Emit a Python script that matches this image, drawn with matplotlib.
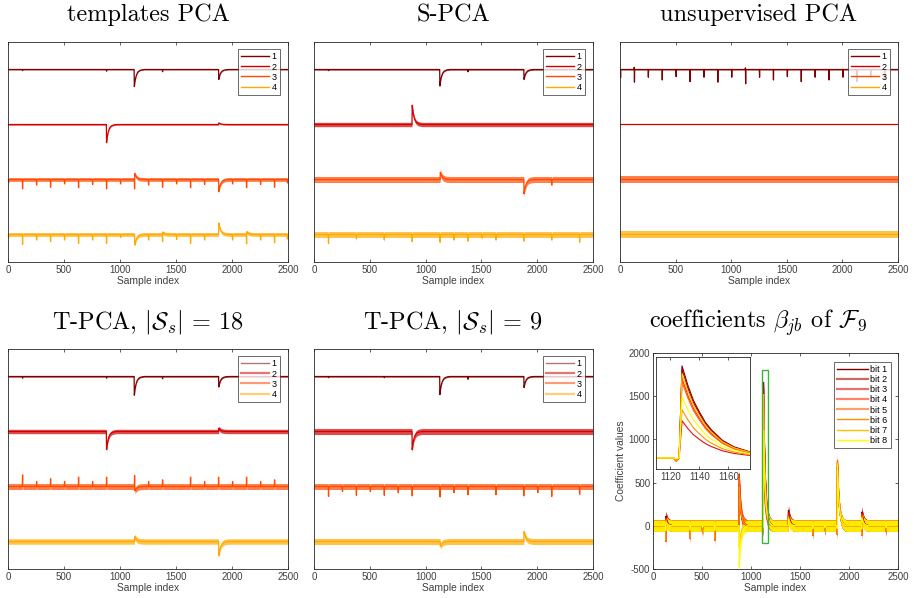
import numpy as np
import matplotlib
matplotlib.use("Agg")
import matplotlib.pyplot as plt
from matplotlib.lines import Line2D
from matplotlib.patches import Rectangle

plt.rcParams['font.family'] = ['Liberation Sans', 'DejaVu Sans']
plt.rcParams['mathtext.fontset'] = 'cm'
plt.rcParams['axes.unicode_minus'] = False

# ---- shared shapes ----
DECAY_OFFS = [-2, 0, 4, 8, 12, 16, 20, 28, 36, 48, 64, 90]
DECAY_FRAC = [0.0, 1.0, 0.79, 0.62, 0.50, 0.39, 0.31, 0.19, 0.12, 0.06, 0.025, 0.0]
SPIKE_OFFS = [-2, 0, 2]
SPIKE_FRAC = [0.0, 1.0, 0.0]

TRACE_COLORS = ['#800000', '#d40000', '#ff4a00', '#ffaa00']
TRACE_LABELS = ['1', '2', '3', '4']
TITLES = ['templates PCA', 'S-PCA', 'unsupervised PCA',
          r'T-PCA, $|\mathcal{S}_s|\,=\,18$', r'T-PCA, $|\mathcal{S}_s|\,=\,9$',
          r'coefficients $\beta_{jb}$ of $\mathcal{F}_9$']
XTICKS = [0, 500, 1000, 1500, 2000, 2500]

# ---- panel 1: templates PCA  (transients, narrow spikes, noise half-width) ----
P1_TRANS = [[(1128, -0.31), (1882, -0.18)],
            [(880, -0.33), (1882, 0.03)],
            [(1132, 0.11), (1882, -0.22)],
            [(1132, -0.19), (1882, 0.21), (1382, 0.04), (2132, 0.05)]]
P1_SPIKES = [[(130, -0.02), (880, -0.03), (1380, -0.04)],
             [],
             [(5, -0.05), (130, -0.17), (255, -0.1), (380, -0.14), (505, -0.08), (630, -0.15),
              (755, -0.09), (880, -0.17), (1005, -0.08), (1130, -0.17), (1255, -0.1),
              (1380, -0.14), (1505, -0.08), (1630, -0.15), (1755, -0.09), (2005, -0.08),
              (2130, -0.15), (2255, -0.09), (2380, -0.14), (2495, -0.06)],
             [(5, -0.05), (130, -0.18), (255, -0.1), (380, -0.13), (505, -0.1), (630, -0.16),
              (755, -0.1), (880, -0.16), (1005, -0.05), (1255, -0.1), (1380, -0.13),
              (1505, -0.09), (1630, -0.16), (1755, -0.1), (2005, -0.1), (2130, -0.17),
              (2255, -0.1), (2380, -0.15), (2495, -0.08)]]
P1_NOISE = [0.008, 0.012, 0.035, 0.035]

# ---- panel 2: S-PCA ----
P2_TRANS = [[(1128, -0.30), (1882, -0.18)],
            [(880, 0.35)],
            [(1132, 0.13), (1882, -0.26)],
            []]
P2_SPIKES = [[(130, -0.02), (1380, -0.04)],
             [],
             [(2130, -0.1)],
             [(130, -0.16), (380, -0.08), (630, -0.1), (880, -0.13), (1130, -0.14), (1255, -0.1),
              (1380, -0.12), (1505, -0.06), (1630, -0.1), (1880, -0.12), (2130, -0.1), (2380, -0.14)]]
P2_NOISE = [0.012, 0.04, 0.055, 0.055]

# ---- panel 3: unsupervised PCA ----
P3_TRANS = [[], [], [], []]
P3_SPIKES = [[(5, -0.15), (128, 0.04), (130, -0.23), (255, -0.14), (380, -0.19), (505, -0.13),
              (630, -0.22), (755, -0.14), (880, -0.23), (1005, -0.14), (1128, 0.03), (1130, -0.26),
              (1255, -0.14), (1380, -0.19), (1505, -0.13), (1630, -0.22), (1755, -0.14),
              (1880, -0.19), (2005, -0.14), (2130, -0.22), (2255, -0.14), (2380, -0.19)],
             [],
             [],
             []]
P3_NOISE = [0.01, 0.012, 0.055, 0.055]

# ---- panel 4: T-PCA |S_s| = 18 ----
P4_TRANS = [[(1128, -0.34), (1882, -0.19)],
            [(880, -0.33), (1882, 0.06)],
            [(1134, -0.08)],
            [(1132, 0.09), (1882, -0.26)]]
P4_SPIKES = [[(130, -0.03), (880, -0.03), (1380, -0.04)],
             [],
             [(130, 0.21), (255, 0.09), (380, 0.14), (505, 0.09), (630, 0.17), (755, 0.09),
              (880, 0.17), (1130, 0.2), (1255, 0.09), (1380, 0.12), (1630, 0.17), (1755, 0.09),
              (1880, 0.17), (2005, 0.09), (2130, 0.17), (2255, 0.09), (2380, 0.12)],
             []]
P4_NOISE = [0.012, 0.04, 0.055, 0.05]

# ---- panel 5: T-PCA |S_s| = 9 ----
P5_TRANS = [[(1128, -0.33), (1882, -0.20)],
            [(880, -0.33)],
            [],
            [(1132, -0.09), (1882, 0.18)]]
P5_SPIKES = [[(130, -0.02), (630, -0.02), (1380, -0.05)],
             [],
             [(130, -0.18), (255, -0.09), (380, -0.16), (505, -0.09), (630, -0.16), (755, -0.11),
              (880, -0.17), (1130, -0.19), (1255, -0.11), (1380, -0.15), (1630, -0.15),
              (1880, -0.17), (2005, -0.11), (2130, -0.18), (2380, -0.14)],
             []]
P5_NOISE = [0.012, 0.055, 0.055, 0.055]

# ---- panel 6: coefficients per bit ----
BIT_LABELS = ['bit 1', 'bit 2', 'bit 3', 'bit 4', 'bit 5', 'bit 6', 'bit 7', 'bit 8']
BIT_COLORS = ['#800000', '#b00000', '#e01010', '#ff3000', '#ff6000', '#ff9000', '#ffc000', '#ffff00']
BIT_PEAK_132 = [110, 100, 90, 80, 70, 60, 50, 40]
BIT_PEAK_880 = [420, 480, 560, 600, 560, 450, -250, -480]
BIT_PEAK_1128 = [1660, 1600, 670, 1430, 1370, 870, 1520, 1100]
BIT_PEAK_1382 = [180, 160, 140, 120, 110, 100, 90, 80]
BIT_PEAK_1882 = [680, 700, 720, 740, 760, 740, 720, 700]
BIT_PEAK_2132 = [160, 150, 140, 130, 110, 100, 90, 80]
BIT_SPIKE_POS = [130, 380, 505, 630, 1124, 1630, 1755, 1880, 2130, 2380]
BIT_SPIKE_DEPTH = [-180, -150, -70, -170, -60, -110, -60, -100, -110, -70]
BIT_SPIKE_SCALE = [0.5, 0.6, 0.8, 1.0, 1.0, 0.9, 0.35, 0.3]
BIT_NOISE = 65


def trace_xy(transients, spikes):
    xs = [0, 2500]
    for p, _ in transients:
        xs += [p + o for o in DECAY_OFFS]
    for p, _ in spikes:
        xs += [p + o for o in SPIKE_OFFS]
    xs = np.unique(np.clip(xs, 0, 2500)).astype(float)
    ys = np.zeros_like(xs)
    for p, a in transients:
        ys += a * np.interp(xs, np.add(p, DECAY_OFFS), DECAY_FRAC, left=0, right=0)
    for p, a in spikes:
        ys += a * np.interp(xs, np.add(p, SPIKE_OFFS), SPIKE_FRAC, left=0, right=0)
    return xs, ys


def px_axes(fig, l, r, t, b):
    W, H = 914.0, 598.0
    return fig.add_axes([l / W, 1 - b / H, (r - l) / W, (b - t) / H])


def style_axes(ax, yticks=False):
    for s in ax.spines.values():
        s.set_color('#262626')
        s.set_linewidth(0.6)
    ax.tick_params(direction='in', length=2.5, width=0.5, colors='#262626',
                   labelsize=7, labelcolor='#404040', top=True, right=yticks, pad=2)
    if not yticks:
        ax.set_yticks([])


fig = plt.figure(figsize=(9.14, 5.98), dpi=100)

panel_rects = [(8, 288, 42, 262), (314, 593, 42, 262), (620, 898, 42, 262),
               (8, 288, 349, 569), (314, 593, 349, 569)]
panel_data = [(P1_TRANS, P1_SPIKES, P1_NOISE), (P2_TRANS, P2_SPIKES, P2_NOISE),
              (P3_TRANS, P3_SPIKES, P3_NOISE), (P4_TRANS, P4_SPIKES, P4_NOISE),
              (P5_TRANS, P5_SPIKES, P5_NOISE)]

for k, (rect, (trans, spikes, noise)) in enumerate(zip(panel_rects, panel_data)):
    ax = px_axes(fig, *rect)
    for i in range(4):
        xs, ys = trace_xy(trans[i], spikes[i])
        ys = ys - i
        ax.fill_between(xs, ys - noise[i], ys + noise[i], color=TRACE_COLORS[i], alpha=0.7, lw=0)
        ax.plot(xs, ys, color=TRACE_COLORS[i], lw=0.9)
    ax.set_xlim(0, 2500)
    ax.set_ylim(-3.5, 0.5)
    ax.set_xticks(XTICKS)
    style_axes(ax)
    ax.set_xlabel('Sample index', fontsize=7.4, color='#404040', labelpad=1)
    light = k >= 3
    handles = [Line2D([], [], color=c, lw=1.6 if (light and j > 0) else 1.0,
                      alpha=0.55 if light else 1.0) for j, c in enumerate(TRACE_COLORS)]
    leg = ax.legend(handles, TRACE_LABELS, loc='upper right', bbox_to_anchor=(0.971, 0.967),
                    borderaxespad=0, fontsize=6.5, frameon=True, fancybox=False,
                    handlelength=3.1, handletextpad=0.3, labelspacing=0.12,
                    borderpad=0.35, markerfirst=True)
    leg.get_frame().set_edgecolor('#262626')
    leg.get_frame().set_linewidth(0.6)

# ---- coefficients panel ----
ax6 = px_axes(fig, 653, 898, 353, 569)
bit_curves = []
for b in range(8):
    trans = [(132, BIT_PEAK_132[b]), (880, BIT_PEAK_880[b]), (1128, BIT_PEAK_1128[b]),
             (1382, BIT_PEAK_1382[b]), (1882, BIT_PEAK_1882[b]), (2132, BIT_PEAK_2132[b])]
    spk = [(p, d * BIT_SPIKE_SCALE[b]) for p, d in zip(BIT_SPIKE_POS, BIT_SPIKE_DEPTH)]
    xs, ys = trace_xy(trans, spk)
    bit_curves.append((xs, ys))
    ax6.fill_between(xs, ys - BIT_NOISE, ys + BIT_NOISE, color=BIT_COLORS[b], alpha=0.75, lw=0)
    ax6.plot(xs, ys, color=BIT_COLORS[b], lw=0.8)
ax6.add_patch(Rectangle((1110, -200), 60, 2000, fill=False, ec='#3cb43c', lw=1.0, zorder=5))
ax6.set_xlim(0, 2500)
ax6.set_ylim(-500, 2000)
ax6.set_xticks(XTICKS)
ax6.set_yticks([-500, 0, 500, 1000, 1500, 2000])
style_axes(ax6, yticks=True)
ax6.set_xlabel('Sample index', fontsize=7.4, color='#404040', labelpad=1)
ax6.set_ylabel('Coefficient values', fontsize=7.4, color='#404040', labelpad=2)
handles = [Line2D([], [], color=c, lw=1.0 if j in (0, 5, 6, 7) else 1.6,
                  alpha=1.0 if j in (0, 5, 6, 7) else 0.6) for j, c in enumerate(BIT_COLORS)]
leg = ax6.legend(handles, BIT_LABELS, loc='upper right', bbox_to_anchor=(0.971, 0.958),
                 borderaxespad=0, fontsize=6.5, fancybox=False, handlelength=3.4,
                 handletextpad=0.3, labelspacing=0.12, borderpad=0.35)
leg.get_frame().set_edgecolor('#262626')
leg.get_frame().set_linewidth(0.6)

# inset zoom on the big transient
axin = px_axes(fig, 656, 750, 357, 469)
axin.set_facecolor('white')
for b in range(8):
    xs, ys = bit_curves[b]
    axin.plot(xs, ys, color=BIT_COLORS[b], lw=0.8)
axin.set_xlim(1110, 1175)
axin.set_ylim(-200, 1820)
axin.set_xticks([1120, 1140, 1160])
style_axes(axin)
axin.tick_params(right=False)

# ---- titles ----
title_pos = [(148, 21), (453, 21), (759, 21), (148, 328), (453, 328), (758, 328)]
for (x, y), t in zip(title_pos, TITLES):
    fig.text(x / 914, 1 - y / 598, t, ha='center', va='baseline', fontsize=17.5,
             family='cmr10')

fig.savefig('out.png', dpi=100)
